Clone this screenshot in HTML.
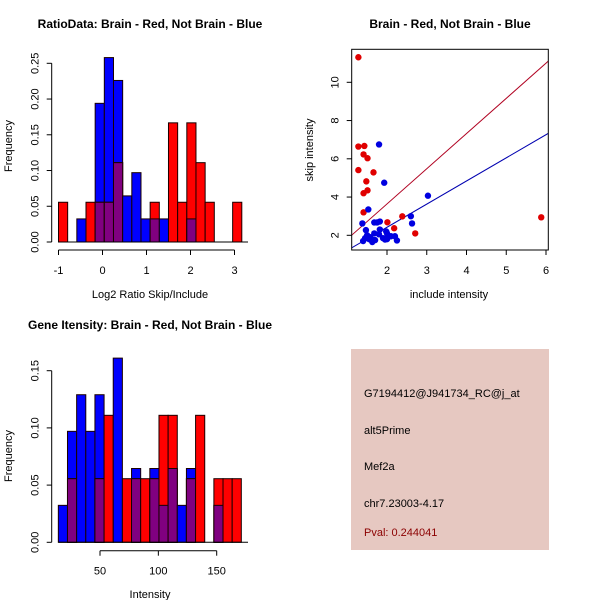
<!DOCTYPE html>
<html><head><meta charset="utf-8">
<style>
body{margin:0;background:#fff;}
svg{display:block;font-family:"Liberation Sans",Arial,sans-serif;}
.t{font-weight:bold;font-size:12px;}
.a{font-size:11px;}
</style></head>
<body>
<svg id="c" width="600" height="600" viewBox="0 0 600 600">
<rect width="600" height="600" fill="#fff"/>
<g id="p1"></g>
<g id="p2"></g>
<g id="p3"></g>
<g>
<rect x="351" y="349" width="198" height="201" fill="#e6c8c1"/>
<text x="364" y="397" class="a">G7194412@J941734_RC@j_at</text>
<text x="364" y="434" class="a">alt5Prime</text>
<text x="364" y="470" class="a">Mef2a</text>
<text x="364" y="507" class="a">chr7.23003-4.17</text>
<text x="364" y="536" class="a" fill="#8b0000">Pval: 0.244041</text>
</g>
</svg>
<script>
// ---- Histogram 1 data (Log2 ratio) ----
const h1Start = -1;
const h1Step = 0.2083;
const h1Red = [0.0556,0,0,0.0556,0.0556,0.0556,0.111,0,0,0,0.0556,0,0.1667,0.0556,0.1667,0.111,0.0556,0,0,0.0556];
const h1Blue = [0,0,0.0323,0,0.194,0.258,0.226,0.0645,0.097,0.0323,0.0323,0.0323,0,0,0.0323,0,0,0,0,0];
const h1XTicks = [-1,0,1,2,3];
const h1YTicks = [0,0.05,0.10,0.15,0.20,0.25];
const h1YLabels = ["0.00","0.05","0.10","0.15","0.20","0.25"];
// ---- Histogram 2 data (Intensity) ----
const h2Start = 14.3;
const h2Step = 7.84;
const h2Red = [0,0.0556,0,0,0.0556,0.111,0,0.0556,0.0556,0.0556,0.0556,0.111,0.111,0,0.0556,0.111,0,0.0556,0.0556,0.0556];
const h2Blue = [0.0323,0.097,0.129,0.097,0.129,0,0.161,0,0.0645,0,0.0645,0.0323,0.0645,0.0323,0.0645,0,0,0.0323,0,0];
const h2XTicks = [50,100,150];
const h2YTicks = [0,0.05,0.10,0.15];
const h2YLabels = ["0.00","0.05","0.10","0.15"];
// ---- Scatter data ----
const redX = [1.28,1.28,1.43,1.41,1.51,1.28,1.66,1.48,1.51,1.41,1.41,2.385,2.01,2.18,2.71,5.88,2.0];
const redY = [11.31,6.64,6.67,6.23,6.03,5.41,5.29,4.82,4.35,4.2,3.2,2.99,2.68,2.37,2.1,2.94,1.9];
const blueX = [1.8,1.93,3.03,1.53,2.6,2.63,1.38,1.68,1.75,1.82,1.82,1.47,1.98,2.0,1.68,1.8,1.5,2.1,2.2,1.58,1.9,2.0,1.45,1.55,1.65,1.7,2.25,1.4,1.63,1.5,1.95];
const blueY = [6.75,4.75,4.07,3.35,3.0,2.62,2.62,2.67,2.67,2.72,2.3,2.27,2.2,2.1,2.1,2.05,2.0,1.95,1.95,1.9,1.85,1.8,1.85,1.8,1.75,1.75,1.73,1.7,1.65,1.95,1.78];
const redFit = [1.84,-0.04];
const blueFit = [1.21,0.0];
const scXTicks = [2,3,4,5,6];
const scYTicks = [2,4,6,8,10];

const NS="http://www.w3.org/2000/svg";
function mk(parent,tag,attrs){const e=document.createElementNS(NS,tag);for(const k in attrs)e.setAttribute(k,attrs[k]);parent.appendChild(e);return e;}
function txt(parent,x,y,s,cls,extra){const e=mk(parent,'text',Object.assign({x:x,y:y,class:cls||'a'},extra||{}));e.textContent=s;return e;}

function hist(g,o){
  const sx=v=>o.x0px+(v-o.x0)*o.kx, sy=v=>o.y0px-v*o.ky;
  for(let i=0;i<o.red.length;i++){
    const a=o.start+i*o.step,b=a+o.step,x=sx(a),w=sx(b)-x;
    const r=o.red[i],bl=o.blue[i];
    if(bl>0){const e=mk(g,'rect',{x:x,y:sy(bl),width:w,height:sy(0)-sy(bl),fill:'#0000ff',stroke:'#1a0000','stroke-width':1});
      }
    if(r>0){const e=mk(g,'rect',{x:x,y:sy(r),width:w,height:sy(0)-sy(r),fill:'#ff0000',stroke:'#1a0000','stroke-width':1});
      }
    const m=Math.min(r,bl);
    if(m>0){const e=mk(g,'rect',{x:x,y:sy(m),width:w,height:sy(0)-sy(m),fill:'#800080',stroke:'#1a0000','stroke-width':1});
      }
  }
  mk(g,'line',{x1:sx(o.start),x2:o.baseEnd,y1:sy(0),y2:sy(0),stroke:'#000'});
  const ya=mk(g,'g',{});
  mk(ya,'line',{x1:o.yax,x2:o.yax,y1:sy(o.yt[0]),y2:sy(o.yt[o.yt.length-1]),stroke:'#000'});
  o.yt.forEach((v,i)=>{mk(ya,'line',{x1:o.yax-5,x2:o.yax,y1:sy(v),y2:sy(v),stroke:'#000'});
    txt(ya,o.yax-13,sy(v),o.yl[i],'a',{transform:`rotate(-90 ${o.yax-13} ${sy(v)})`,'text-anchor':'middle'});});
  const xa=mk(g,'g',{});
  mk(xa,'line',{x1:sx(o.xt[0]),x2:sx(o.xt[o.xt.length-1]),y1:o.xay,y2:o.xay,stroke:'#000'});
  o.xt.forEach(v=>{mk(xa,'line',{x1:sx(v),x2:sx(v),y1:o.xay,y2:o.xay+5,stroke:'#000'});
    txt(xa,sx(v),o.xay+24,String(v),'a',{'text-anchor':'middle'});});
  const t=txt(g,o.tx,o.ty,o.title,'t',{'text-anchor':'middle'});
  const xl=txt(g,150,o.xly,o.xlab,'a',{'text-anchor':'middle'});
  const yl=txt(g,12,o.yly,'Frequency','a',{transform:`rotate(-90 12 ${o.yly})`,'text-anchor':'middle'});
}
hist(document.getElementById('p1'),{start:h1Start,step:h1Step,red:h1Red,blue:h1Blue,x0:-1,x0px:58.5,kx:44,y0px:242,ky:714.8,
  yax:51.7,yt:h1YTicks,yl:h1YLabels,xt:h1XTicks,xay:250,baseEnd:248,title:'RatioData: Brain - Red, Not Brain - Blue',tx:150,ty:28,xlab:'Log2 Ratio Skip/Include',xly:298,yly:146});
hist(document.getElementById('p3'),{start:h2Start,step:h2Step,red:h2Red,blue:h2Blue,x0:50,x0px:100,kx:1.167,y0px:542.3,ky:1144,
  yax:51.7,yt:h2YTicks,yl:h2YLabels,xt:h2XTicks,xay:550.7,baseEnd:248,title:'Gene Itensity: Brain - Red, Not Brain - Blue',tx:150,ty:329,xlab:'Intensity',xly:598,yly:456});

(function(){
  const g=document.getElementById('p2');
  const L=351.7,R=548.3,T=49.3,B=250;
  const sx=v=>387+(v-2)*39.75, sy=v=>235.3-(v-2)*19.125;
  mk(g,'clipPath',{id:'clp'}).appendChild(document.createElementNS(NS,'rect'));
  const cr=g.querySelector('#clp rect');cr.setAttribute('x',L);cr.setAttribute('y',T);cr.setAttribute('width',R-L);cr.setAttribute('height',B-T);
  const xa0=(L-387)/39.75+2, xa1=(R-387)/39.75+2;
  [[redFit,'#b00020','red-fit-line'],[blueFit,'#0000b0','blue-fit-line']].forEach(([f,c,n])=>{
    const e=mk(g,'line',{x1:sx(xa0),y1:sy(f[0]*xa0+f[1]),x2:sx(xa1),y2:sy(f[0]*xa1+f[1]),stroke:c,'stroke-width':1,'clip-path':'url(#clp)'});
    });
  redX.forEach((x,i)=>{const e=mk(g,'circle',{cx:sx(x),cy:sy(redY[i]),r:3.2,fill:'#e00000'});
    });
  blueX.forEach((x,i)=>{const e=mk(g,'circle',{cx:sx(x),cy:sy(blueY[i]),r:3.2,fill:'#0000e0'});
    });
  const box=mk(g,'rect',{x:L,y:T,width:R-L,height:B-T,fill:'none',stroke:'#000'});
  
  const xa=mk(g,'g',{});
  scXTicks.forEach(v=>{mk(xa,'line',{x1:sx(v),x2:sx(v),y1:B,y2:B+5,stroke:'#000'});txt(xa,sx(v),B+24,String(v),'a',{'text-anchor':'middle'});});
  const ya=mk(g,'g',{});
  scYTicks.forEach(v=>{mk(ya,'line',{x1:L-5,x2:L,y1:sy(v),y2:sy(v),stroke:'#000'});
    txt(ya,L-13,sy(v),String(v),'a',{transform:`rotate(-90 ${L-13} ${sy(v)})`,'text-anchor':'middle'});});
  const t=txt(g,450,28,'Brain - Red, Not Brain - Blue','t',{'text-anchor':'middle'});
  const xl=txt(g,449,298,'include intensity','a',{'text-anchor':'middle'});
  const yl=txt(g,313,150,'skip intensity','a',{transform:'rotate(-90 313 150)','text-anchor':'middle'});
})();
</script>
</body></html>
